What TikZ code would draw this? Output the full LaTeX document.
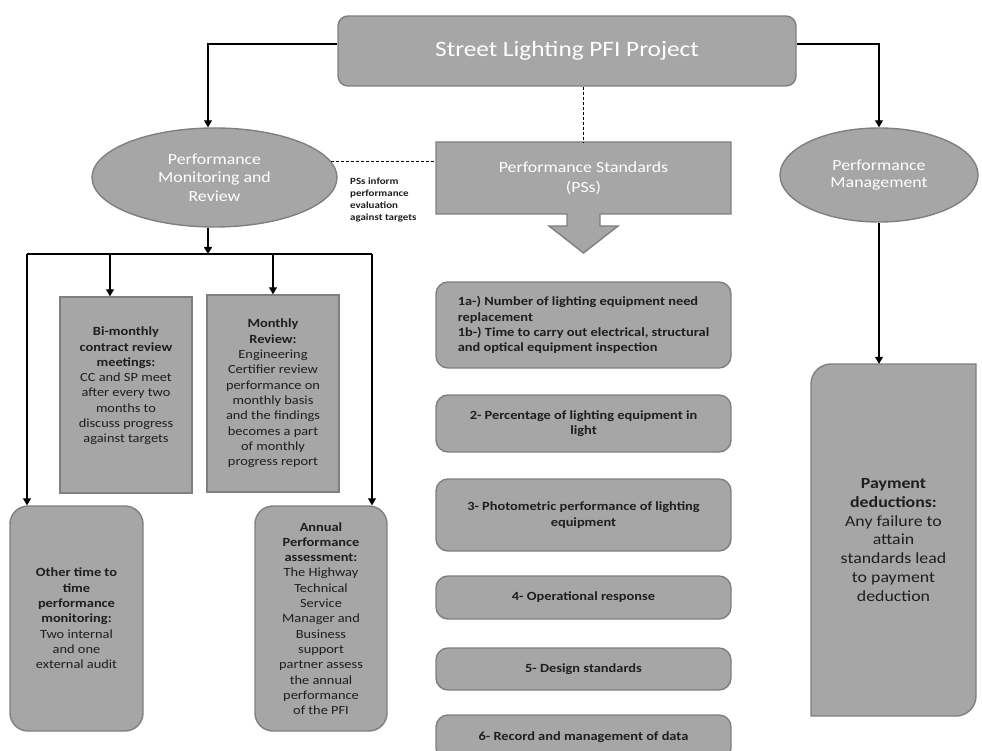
\documentclass[tikz,border=0pt]{standalone}
\usepackage{fontspec}
\setmainfont{Carlito}[FakeStretch=1.15]
\usetikzlibrary{arrows.meta,shapes.geometric}

\definecolor{boxfill}{HTML}{A6A6A6}
\definecolor{boxline}{HTML}{7F7F7F}
\definecolor{ink}{HTML}{1E1E1E}

\newcommand\fsz[2]{\fontsize{#1}{#2}\selectfont}

\begin{document}
\begin{tikzpicture}[x=1pt,y=-1pt,
  shade/.style={fill=boxfill, draw=boxline, line width=1.4pt},
  headbox/.style={shade, rounded corners=10pt, inner sep=0pt,
    minimum width=458pt, minimum height=70pt, text=white, font=\fsz{22}{26}},
  oval/.style={ellipse, shade, inner sep=0pt, align=center, text=white},
  sq/.style={rectangle, shade, inner sep=0pt, align=center, text=ink,
    font=\fsz{12.5}{15.3}},
  txt/.style={inner sep=0pt, align=center, text=ink, font=\fsz{12.5}{15.3}},
  card/.style={shade, rounded corners=18pt, inner sep=0pt, align=center,
    text=ink, font=\fsz{12.5}{15.3}, minimum width=132pt, minimum height=225pt},
  item/.style={shade, rounded corners=12pt, inner sep=0pt, align=center,
    minimum width=295pt, text=ink, font=\bfseries\fsz{12.5}{15.3}},
  link/.style={draw=black, line width=1.1pt},
  arr/.style={link, -{Triangle[length=7pt,width=8pt]}},
  dash line/.style={draw=black, line width=1pt, dash pattern=on 3pt off 2pt},
]
\clip (0,0) rectangle (982,751);

% top of the hierarchy
\node[headbox] (top) at (567,51) {Street Lighting PFI Project};

% the three branches
\node[oval, minimum width=245pt, minimum height=99pt, font=\fsz{15.5}{18.3}]
  (pmr) at (214.5,177.5) {Performance\\Monitoring and\\Review};

\path[shade] (436,142) -- (731,142) -- (731,214) -- (600,214) -- (600,226)
  -- (618,226) -- (583.5,253) -- (549,226) -- (567,226) -- (567,214)
  -- (436,214) -- cycle;
\node[inner sep=0pt, minimum width=295pt, minimum height=72pt, align=center,
  text=white, font=\fsz{15.5}{19.5}] (ps) at (583.5,178)
  {Performance Standards\\(PSs)};

\node[oval, minimum width=198pt, minimum height=94pt, font=\fsz{15.5}{17.5}]
  (pm) at (879,175) {Performance\\Management};

\node[inner sep=0pt, anchor=west, align=left, text=ink,
  font=\bfseries\fsz{9.5}{12.2}] (note) at (350,200)
  {PSs inform\\performance\\evaluation\\against targets};

% monitoring and review activities
\node[sq, minimum width=132pt, minimum height=196pt] (bim) at (126,395) {};
\node[txt] (bimtxt) at (126,386)
  {\textbf{Bi-monthly}\\\textbf{contract review}\\\textbf{meetings:}\\CC and SP meet\\after every two\\months to\\discuss progress\\against targets};

\node[sq, minimum width=132pt, minimum height=197pt] (mon) at (273,393.5)
  {\textbf{Monthly}\\\textbf{Review:}\\Engineering\\Certifier review\\performance on\\monthly basis\\and the findings\\becomes a part\\of monthly\\progress report};

\node[card, minimum width=133pt] (oth) at (76.5,618.5)
  {\textbf{Other time to}\\\textbf{time}\\\textbf{performance}\\\textbf{monitoring:}\\Two internal\\and one\\external audit};

\node[card] (ann) at (321,618.5)
  {\textbf{Annual}\\\textbf{Performance}\\\textbf{assessment:}\\The Highway\\Technical\\Service\\Manager and\\Business\\support\\partner assess\\the annual\\performance\\of the PFI};

% performance standards
\node[item, minimum height=86pt, align=left] (ps1) at (583.5,325)
  {1a-) Number of lighting equipment need\\replacement\\1b-) Time to carry out electrical, structural\\and optical equipment inspection};
\node[item, minimum height=57pt] (ps2) at (583.5,423.5)
  {2- Percentage of lighting equipment in\\light};
\node[item, minimum height=72pt] (ps3) at (583.5,515)
  {3- Photometric performance of lighting\\equipment};
\node[item, minimum height=43pt] (ps4) at (583.5,597.5) {4- Operational response};
\node[item, minimum height=42pt] (ps5) at (583.5,669) {5- Design standards};
\node[item, minimum height=45pt] (ps6) at (583.5,737.5) {6- Record and management of data};

% payment deductions: rounded top-left and bottom-right corners
\path[shade] (811,716) -- (811,384) arc[start angle=180, end angle=90, radius=20pt]
  -- (976,364) -- (976,696) arc[start angle=0, end angle=-90, radius=20pt] -- cycle;
\node[inner sep=0pt, minimum width=165pt, minimum height=352pt, align=center,
  text=ink, font=\fsz{15.5}{18.9}] (pay) at (893.5,540)
  {\textbf{Payment}\\\textbf{deductions:}\\Any failure to\\attain\\standards lead\\to payment\\deduction};

% connectors
\coordinate (lvl) at (0,44);
\coordinate (hub) at (208,254);
\coordinate (hl) at (27,254);
\coordinate (hr) at (372,254);
\coordinate (h1) at (110,254);
\coordinate (h2) at (273,254);

\draw[arr] (top.west |- lvl) -| (hub |- pmr.north);
\draw[arr] (top.east |- lvl) -| (pm.north);
\draw[dash line] (top.south -| ps.north) -- (ps.north);
\draw[dash line] (pmr.8) -- (pmr.8 -| ps.west);
\draw[arr] (hub |- pmr.south) -- (hub);
\draw[link] (hl) -- (hr);
\draw[arr] (hl) -- (hl |- oth.north);
\draw[arr] (h1) -- (h1 |- bim.north);
\draw[arr] (h2) -- (mon.north);
\draw[arr] (hr) -- (hr |- ann.north);
\draw[arr] (pm.south) -- (pm.south |- pay.north);
\end{tikzpicture}
\end{document}
